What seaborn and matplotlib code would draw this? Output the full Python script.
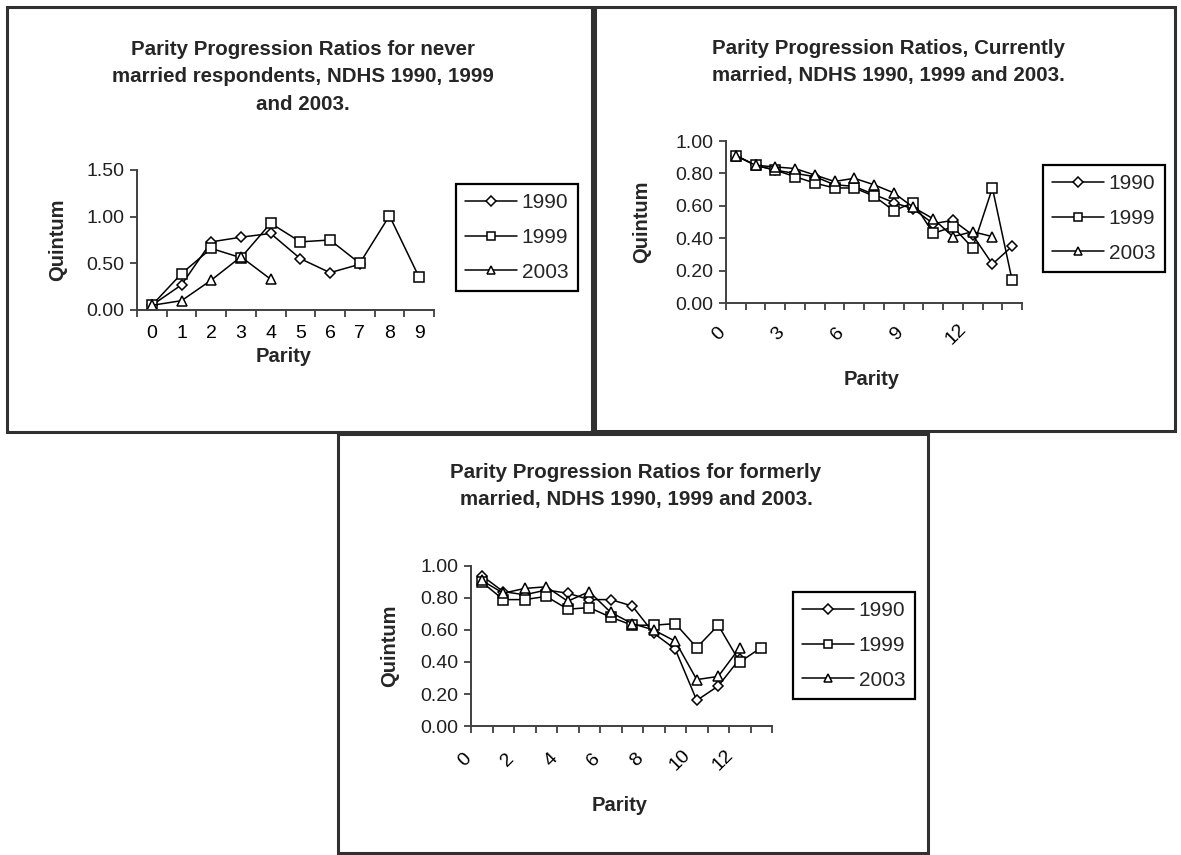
import numpy as np
import pandas as pd
import matplotlib
matplotlib.use("Agg")
import matplotlib.pyplot as plt
import matplotlib.transforms as mtrans
from matplotlib.patches import Rectangle
from matplotlib.ticker import FixedLocator, FormatStrFormatter
import seaborn as sns

# ---- data -------------------------------------------------------------
years = ["1990", "1999", "2003"]

# never married respondents, parity 0..9
never_labels = [str(i) for i in range(10)]
never_1990 = [0.05, 0.27, 0.73, 0.78, 0.82, 0.55, 0.40, 0.49]
never_1999 = [0.05, 0.39, 0.66, 0.56, 0.93, 0.73, 0.75, 0.50, 1.01, 0.35]
never_2003 = [0.05, 0.10, 0.32, 0.57, 0.33]

# currently married, parity 0..14
curr_labels = [str(i) for i in range(15)]
curr_1990 = [0.91, 0.85, 0.82, 0.80, 0.78, 0.73, 0.72, 0.67, 0.62, 0.58, 0.49, 0.51, 0.42, 0.24, 0.35]
curr_1999 = [0.91, 0.85, 0.82, 0.78, 0.74, 0.71, 0.71, 0.66, 0.57, 0.62, 0.43, 0.47, 0.34, 0.71, 0.14]
curr_2003 = [0.91, 0.85, 0.84, 0.83, 0.79, 0.75, 0.77, 0.73, 0.68, 0.59, 0.52, 0.41, 0.44, 0.41]

# formerly married, parity 0..13
form_labels = [str(i) for i in range(14)]
form_1990 = [0.94, 0.84, 0.82, 0.85, 0.83, 0.79, 0.79, 0.75, 0.58, 0.48, 0.16, 0.25, 0.42]
form_1999 = [0.90, 0.79, 0.79, 0.81, 0.73, 0.74, 0.68, 0.63, 0.63, 0.64, 0.49, 0.63, 0.40, 0.49]
form_2003 = [0.91, 0.83, 0.86, 0.87, 0.78, 0.84, 0.71, 0.64, 0.60, 0.53, 0.29, 0.31, 0.49]

# ---- style ------------------------------------------------------------
W, H = 1181, 855
sns.set_theme(style="white")
plt.rcParams["font.family"] = ["Liberation Sans", "DejaVu Sans"]
plt.rcParams["font.size"] = 14

fig = plt.figure(figsize=(W / 100, H / 100), dpi=100)
fig.patch.set_facecolor("white")


def fx(x):
    return x / W


def fy(y):
    return 1 - y / H


def px_rect(left, top, right, bottom):
    return [fx(left), fy(bottom), (right - left) / W, (bottom - top) / H]


palette = {y: "black" for y in years}
markers = {"1990": "D", "1999": "s", "2003": "^"}
marker_sizes = {"D": 5.2, "s": 6.8, "^": 7.2}


def long_frame(series):
    rows = []
    for yr, vals in zip(years, series):
        for i, v in enumerate(vals):
            rows.append({"parity": i, "ratio": v, "year": yr})
    return pd.DataFrame(rows)


def panel(box, axes_px, title, series, labels, ymax, ystep, label_step,
          rotate, title_y, ylab_x, xlab_y, tick_y, legend_px):
    # outer frame around the chart object
    bl, bt, br, bb = box
    fig.add_artist(Rectangle((fx(bl), fy(bb)), (br - bl) / W, (bb - bt) / H,
                             transform=fig.transFigure, fill=False,
                             edgecolor="#303030", linewidth=2.2))

    left, top, right, bottom = axes_px
    ax = fig.add_axes(px_rect(left, top, right, bottom))
    ax.set_facecolor("none")
    df = long_frame(series)
    sns.lineplot(data=df, x="parity", y="ratio", hue="year", style="year",
                 palette=palette, markers=markers, dashes=False,
                 errorbar=None, sort=False, ax=ax, linewidth=1.1,
                 markersize=7, markerfacecolor="white",
                 markeredgecolor="black", markeredgewidth=1.1)
    for line in ax.lines:
        m = line.get_marker()
        if m in marker_sizes:
            line.set_markersize(marker_sizes[m])

    n = len(labels)
    ax.set_xlim(-0.5, n - 0.5)
    ax.set_ylim(0, ymax)
    ax.set_yticks(np.arange(0, ymax + 1e-9, ystep))
    ax.yaxis.set_major_formatter(FormatStrFormatter("%.2f"))
    pos = list(range(0, n, label_step))
    ax.set_xticks(pos)
    ax.xaxis.set_minor_locator(FixedLocator(np.arange(-0.5, n, 1.0)))
    ax.tick_params(axis="x", which="major", length=0, labelsize=14,
                   colors="black")
    ax.tick_params(axis="x", which="minor", bottom=True, length=5,
                   width=1.2, direction="out", color="#303030")
    ax.tick_params(axis="y", which="major", left=True, length=5, width=1.2,
                   direction="out", color="#303030", labelsize=14, pad=4,
                   labelcolor="#202020")
    for s in ("top", "right"):
        ax.spines[s].set_visible(False)
    for s in ("left", "bottom"):
        ax.spines[s].set_color("#404040")
        ax.spines[s].set_linewidth(1.4)
    ax.set_xlabel("")
    ax.set_ylabel("")

    if rotate:
        ax.set_xticklabels([labels[i] for i in pos], rotation=45,
                           ha="center", va="center", rotation_mode="anchor")
        ax.tick_params(axis="x", which="major", pad=(tick_y - bottom) * 0.72)
        off = mtrans.ScaledTranslation(-17 / 100, 0, fig.dpi_scale_trans)
        for lab in ax.get_xticklabels():
            lab.set_transform(lab.get_transform() + off)
    else:
        ax.set_xticklabels([labels[i] for i in pos])
        ax.tick_params(axis="x", which="major", pad=(tick_y - bottom) * 0.72 - 7)

    cx = (bl + br) / 2 + 3
    fig.text(fx(cx), fy(title_y), title, ha="center", va="center",
             fontsize=14.8, fontweight="bold", linespacing=1.55)
    fig.text(fx(ylab_x), fy((top + bottom) / 2), "Quintum", rotation=90,
             ha="center", va="center", fontsize=14.5, fontweight="bold")
    fig.text(fx((left + right) / 2 - 2), fy(xlab_y), "Parity", ha="center",
             va="center", fontsize=14.5, fontweight="bold")

    lx, ly = legend_px
    sns.move_legend(ax, loc="upper left", bbox_to_anchor=(fx(lx), fy(ly)),
                    bbox_transform=fig.transFigure, title=None, frameon=True,
                    fancybox=False, framealpha=1, edgecolor="black",
                    borderaxespad=0, borderpad=0.45, labelspacing=0.75,
                    handlelength=2.5, handletextpad=0.2, fontsize=15)
    leg = ax.get_legend()
    leg.get_frame().set_linewidth(1.6)
    for h in leg.legend_handles:
        h.set_markerfacecolor("white")
        h.set_markeredgecolor("black")
        h.set_color("black")
        h.set_markersize(5.5)
    return ax


panel(box=(7, 7, 592, 432), axes_px=(137, 170, 434, 310),
      title="Parity Progression Ratios for never\nmarried respondents, NDHS 1990, 1999\nand 2003.",
      series=[never_1990, never_1999, never_2003], labels=never_labels,
      ymax=1.5, ystep=0.5, label_step=1, rotate=False,
      title_y=77, ylab_x=58, xlab_y=357, tick_y=335, legend_px=(456, 184))

panel(box=(595, 7, 1175, 431), axes_px=(726, 141, 1022, 303),
      title="Parity Progression Ratios, Currently\nmarried, NDHS 1990, 1999 and 2003.",
      series=[curr_1990, curr_1999, curr_2003], labels=curr_labels,
      ymax=1.0, ystep=0.2, label_step=3, rotate=True,
      title_y=62, ylab_x=642, xlab_y=379, tick_y=334, legend_px=(1043, 165))

panel(box=(338, 434, 928, 853), axes_px=(471, 566, 772, 726),
      title="Parity Progression Ratios for formerly\nmarried, NDHS 1990, 1999 and 2003.",
      series=[form_1990, form_1999, form_2003], labels=form_labels,
      ymax=1.0, ystep=0.2, label_step=2, rotate=True,
      title_y=486, ylab_x=390, xlab_y=805, tick_y=760, legend_px=(793, 592))

fig.savefig("out.png", dpi=100, facecolor="white")
